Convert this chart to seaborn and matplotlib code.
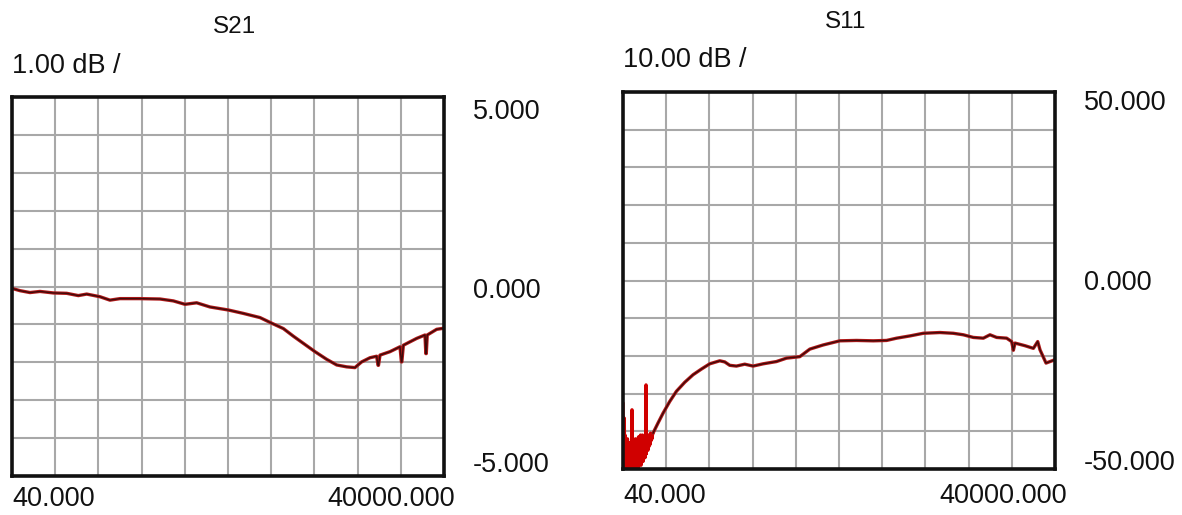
import numpy as np
import pandas as pd
import matplotlib
matplotlib.use("Agg")
import matplotlib.pyplot as plt
import seaborn as sns

# ---- S21 trace (frequency in MHz, magnitude in dB) ----
s21_freq = [40, 780, 1705, 2630, 3860, 5100, 6175, 6950, 8180, 9100, 10030,
            11880, 13730, 14960, 16040, 17120, 18350, 20050, 21440, 22980,
            24150, 25140, 26060, 26990, 28070, 29140, 30070, 30990, 31760,
            32380, 33150, 33770, 33900, 33940, 34080, 35000, 35930, 36060,
            36100, 36240, 37470, 38240, 38320, 38360, 38450, 39320, 40000]
s21_db = [-0.05, -0.11, -0.16, -0.13, -0.17, -0.18, -0.24, -0.20, -0.27, -0.36,
          -0.32, -0.32, -0.33, -0.38, -0.47, -0.43, -0.54, -0.62, -0.71, -0.82,
          -0.98, -1.11, -1.31, -1.50, -1.72, -1.92, -2.07, -2.12, -2.14,
          -1.99, -1.88, -1.84, -2.08, -2.08, -1.81, -1.72, -1.59, -1.99,
          -1.99, -1.55, -1.37, -1.28, -1.77, -1.77, -1.28, -1.13, -1.10]

# ---- S11 trace: noisy low-frequency start ----
s11_noise_freq = [40, 70, 100, 130, 160, 190, 225, 260, 300, 340, 380, 410,
                  450, 500, 540, 595, 640, 690, 730, 780, 820, 860, 872, 885,
                  920, 965, 1010, 1060, 1100, 1150, 1190, 1240, 1290, 1335,
                  1380, 1430, 1475, 1520, 1565, 1610, 1660, 1705, 1750, 1800,
                  1845, 1890, 1935, 1980, 2030, 2075, 2120, 2160, 2170, 2180,
                  2220, 2260, 2305, 2350, 2400, 2445, 2490, 2540, 2585, 2630,
                  2675, 2720, 2770, 2817]
s11_noise_db = [-32.5, -52.0, -40.0, -52.0, -36.5, -52.0, -41.0, -52.0, -43.0,
                -52.0, -44.0, -51.0, -42.0, -52.0, -44.5, -51.0, -43.0, -52.0,
                -45.0, -51.0, -44.0, -50.0, -34.3, -50.0, -43.0, -51.0, -42.5,
                -50.0, -43.5, -51.0, -42.0, -50.0, -43.0, -49.0, -42.5, -50.0,
                -41.5, -49.0, -42.0, -48.0, -41.0, -49.0, -42.5, -47.0, -41.0,
                -48.0, -42.0, -46.5, -41.5, -47.0, -42.0, -46.0, -27.7, -46.0,
                -42.0, -45.0, -41.0, -45.0, -42.0, -44.0, -41.0, -43.5, -40.5,
                -42.5, -41.0, -42.0, -40.8, -40.5]

# ---- S11 trace: main sweep ----
s11_freq = [2817, 3280, 3743, 4360, 4978, 5750, 6520, 7290, 8064, 8990, 9453,
            9915, 10530, 11300, 12075, 13000, 14235, 15160, 16395, 17320,
            18555, 20100, 21640, 23185, 24420, 25345, 26580, 27815, 29360,
            30590, 31520, 32440, 33370, 33985, 34600, 35530, 35990, 36150,
            36300, 37230, 38000, 38400, 38615, 39170, 39540, 40000]
s11_db = [-40.5, -37.8, -35.2, -32.1, -29.4, -27.0, -25.0, -23.5, -22.1, -21.3,
          -21.6, -22.5, -22.7, -22.2, -22.7, -22.1, -21.5, -20.6, -20.2, -18.2,
          -17.1, -16.0, -15.9, -16.0, -15.9, -15.3, -14.7, -14.0, -13.8,
          -14.0, -14.4, -15.1, -15.3, -14.4, -15.1, -15.3, -16.2, -18.5,
          -16.6, -17.3, -18.0, -16.2, -18.4, -21.9, -21.5, -21.0]

# ---- annotation text ----
f_start, f_stop = 40.0, 40000.0
s21_title, s21_scale = "S21", "1.00 dB /"
s11_title, s11_scale = "S11", "10.00 dB /"
s21_ylabels = ["5.000", "0.000", "-5.000"]
s11_ylabels = ["50.000", "0.000", "-50.000"]
x_labels = ["40.000", "40000.000"]

sns.set_style("white")
plt.rcParams["font.family"] = ["Liberation Sans", "DejaVu Sans"]

W, H = 1182, 515
fig = plt.figure(figsize=(W / 100, H / 100), dpi=100)

ax1 = fig.add_axes([12 / W, 1 - 476 / H, 432 / W, 379 / H])
ax2 = fig.add_axes([623 / W, 1 - 469 / H, 432 / W, 377 / H])

trace_red = "#b01818"
trace_dark = "#3d0a0a"
noise_red = "#d00000"


def style_grid(ax, ylim):
    ax.set_xlim(f_start, f_stop)
    ax.set_ylim(*ylim)
    ax.set_xticks(np.linspace(f_start, f_stop, 11))
    ax.set_yticks(np.linspace(ylim[0], ylim[1], 11))
    ax.set_xticklabels([])
    ax.set_yticklabels([])
    ax.tick_params(length=0)
    ax.grid(True, color="#a8a8a8", linewidth=1.5)
    ax.set_axisbelow(True)
    for sp in ax.spines.values():
        sp.set_visible(True)
        sp.set_color("#111111")
        sp.set_linewidth(2.6)
        sp.set_zorder(5)
    ax.set_xlabel("")
    ax.set_ylabel("")


def draw_trace(ax, freq, db, lw_outer=2.4, lw_inner=1.0):
    df = pd.DataFrame({"freq": freq, "db": db})
    sns.lineplot(data=df, x="freq", y="db", ax=ax, color=trace_red,
                 linewidth=lw_outer, sort=False, estimator=None)
    sns.lineplot(data=df, x="freq", y="db", ax=ax, color=trace_dark,
                 linewidth=lw_inner, sort=False, estimator=None)


# S21 panel
draw_trace(ax1, s21_freq, s21_db)
style_grid(ax1, (-5, 5))

# S11 panel
noise_df = pd.DataFrame({"freq": s11_noise_freq, "db": s11_noise_db})
sns.lineplot(data=noise_df, x="freq", y="db", ax=ax2, color=noise_red,
             linewidth=2.4, sort=False, estimator=None)
draw_trace(ax2, s11_freq, s11_db)
style_grid(ax2, (-50, 50))

lab_fs = 19.5
tit_fs = 17.5

# right-hand scale labels
for ax, labels, ys in [(ax1, s21_ylabels, [0.960, 0.488, 0.029]),
                       (ax2, s11_ylabels, [0.971, 0.493, 0.016])]:
    for lab, yy in zip(labels, ys):
        ax.text(1.067, yy, lab, transform=ax.transAxes, ha="left",
                va="center", fontsize=lab_fs, color="#111111", clip_on=False)

# start / stop frequency labels
ax1.text(0.002, -0.061, x_labels[0], transform=ax1.transAxes, ha="left",
         va="center", fontsize=lab_fs, color="#111111")
ax1.text(1.025, -0.061, x_labels[1], transform=ax1.transAxes, ha="right",
         va="center", fontsize=lab_fs, color="#111111")
ax2.text(0.0, -0.072, x_labels[0], transform=ax2.transAxes, ha="left",
         va="center", fontsize=lab_fs, color="#111111")
ax2.text(1.028, -0.072, x_labels[1], transform=ax2.transAxes, ha="right",
         va="center", fontsize=lab_fs, color="#111111")

# titles and scale captions
fig.text(234 / W, 1 - 27 / H, s21_title, ha="center", va="center",
         fontsize=tit_fs, color="#111111")
fig.text(12 / W, 1 - 66 / H, s21_scale, ha="left", va="center",
         fontsize=lab_fs, color="#111111")
fig.text(846 / W, 1 - 22 / H, s11_title, ha="center", va="center",
         fontsize=tit_fs, color="#111111")
fig.text(623 / W, 1 - 60 / H, s11_scale, ha="left", va="center",
         fontsize=lab_fs, color="#111111")

fig.savefig("out.png", dpi=100, facecolor="white")
